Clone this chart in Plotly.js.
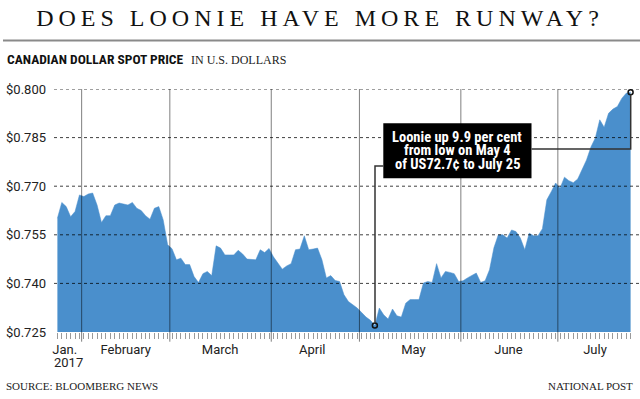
<!DOCTYPE html>
<html>
<head>
<meta charset="utf-8">
<script src="https://cdn.plot.ly/plotly-3.0.1.min.js"></script>
<style>
  html, body { margin: 0; padding: 0; background: #fff; }
  #chart { width: 640px; height: 399px; }
  .gtitle { letter-spacing: 5px; }
</style>
</head>
<body>
<div id="chart"></div>
<script>
// ---- data (Canadian dollar spot price in US$, weekdays Jan 24 - Jul 25, 2017) ----
var startDate = '2017-01-24';
var endDate = '2017-07-25';
var prices = [
  0.7601,0.7650,0.7637,0.7606,0.7622,0.7673,0.7668,0.7676,0.7679,0.7642,
  0.7588,0.7609,0.7609,0.7642,0.7648,0.7646,0.7642,0.7650,0.7632,0.7625,
  0.7609,0.7598,0.7632,0.7637,0.7596,0.7519,0.7507,0.7473,0.7478,0.7458,
  0.7458,0.7421,0.7403,0.7430,0.7437,0.7424,0.7516,0.7509,0.7488,0.7488,
  0.7488,0.7502,0.7491,0.7475,0.7475,0.7473,0.7504,0.7495,0.7508,0.7482,
  0.7463,0.7444,0.7454,0.7461,0.7504,0.7506,0.7547,0.7504,0.7506,0.7509,
  0.7473,0.7417,0.7424,0.7409,0.7406,0.7365,0.7344,0.7334,0.7324,0.7310,
  0.7296,0.7286,0.7270,0.7324,0.7303,0.7290,0.7321,0.7300,0.7296,0.7339,
  0.7350,0.7350,0.7350,0.7401,0.7406,0.7403,0.7461,0.7417,0.7437,0.7434,
  0.7430,0.7406,0.7408,0.7417,0.7424,0.7432,0.7403,0.7408,0.7442,0.7510,
  0.7550,0.7550,0.7540,0.7565,0.7560,0.7540,0.7504,0.7555,0.7547,0.7547,
  0.7569,0.7658,0.7683,0.7710,0.7694,0.7728,0.7717,0.7711,0.7722,0.7750,
  0.7781,0.7821,0.7849,0.7905,0.7882,0.7925,0.7938,0.7946,0.7971,0.7987,
  0.7990
];
var yTickVals = [0.725, 0.740, 0.755, 0.770, 0.785, 0.800];
var yTickText = ['$0.725', '$0.740', '$0.755', '$0.770', '$0.785', '$0.800'];
var monthLabelDates = ['2017-01-25 16:00', '2017-02-14 12:00', '2017-03-15 22:00', '2017-04-13 19:00',
                       '2017-05-16 18:00', '2017-06-15 07:00', '2017-07-12 22:00'];
var monthLabels = ['Jan.', 'February', 'March', 'April', 'May', 'June', 'July'];
var monthDividers = ['2017-01-31 12:00', '2017-02-28 12:00', '2017-03-31 12:00',
                     '2017-04-28 12:00', '2017-05-31 12:00', '2017-06-30 12:00'];
var calloutText = ['Loonie up 9.9 per cent', 'from low on May 4', 'of US72.7\u00a2 to July 25'];

// weekday dates
function pad(n) { return (n < 10 ? '0' : '') + n; }
var dates = [];
(function () {
  var d = new Date(startDate + 'T00:00:00Z'), e = new Date(endDate + 'T00:00:00Z');
  while (d <= e) {
    var w = d.getUTCDay();
    if (w !== 0 && w !== 6) dates.push(d.getUTCFullYear() + '-' + pad(d.getUTCMonth() + 1) + '-' + pad(d.getUTCDate()));
    d.setUTCDate(d.getUTCDate() + 1);
  }
})();

// low and latest points
var lowIdx = 0;
prices.forEach(function (v, i) { if (v < prices[lowIdx]) lowIdx = i; });
var lastIdx = prices.length - 1;

// ---- layout helpers (pixel -> paper) ----
var W = 640, H = 399, L = 54, R = 634, T = 89, B = 332.3;
function px(x) { return (x - L) / (R - L); }
function py(y) { return (B - y) / (B - T); }

var serif = 'Liberation Serif, Times New Roman, serif';
var narrow = 'Liberation Sans Narrow, Arial Narrow, Roboto Condensed, Roboto, sans-serif';
var sans = 'Roboto, Lato, Arial, sans-serif';

var traces = [
  {
    type: 'scatter', mode: 'lines', x: dates, y: prices,
    fill: 'tozeroy', fillcolor: '#4a8fcc', line: { color: '#4a8fcc', width: 0.5 },
    hoverinfo: 'skip', showlegend: false
  },
  {
    type: 'scatter', mode: 'markers',
    x: [dates[lowIdx], dates[lastIdx]], y: [prices[lowIdx], prices[lastIdx]],
    marker: { symbol: 'circle-open', size: 5, color: '#111', line: { width: 1.5, color: '#111' } },
    hoverinfo: 'skip', showlegend: false, cliponaxis: false
  }
];

var shapes = [];
// horizontal dotted gridlines
yTickVals.forEach(function (v) {
  if (v === yTickVals[0]) return;
  shapes.push({ type: 'line', xref: 'paper', yref: 'y', x0: px(54), x1: px(640), y0: v, y1: v,
    line: { color: 'rgba(0,0,0,0.75)', width: 1, dash: 'dot' }, layer: 'above' });
});
// month dividers
monthDividers.forEach(function (d) {
  shapes.push({ type: 'line', xref: 'x', yref: 'paper', x0: d, x1: d, y0: py(342), y1: 1,
    line: { color: 'rgba(0,0,0,0.5)', width: 1 }, layer: 'above' });
});
// rule under title
shapes.push({ type: 'line', xref: 'paper', yref: 'paper', x0: px(3), x1: px(640), y0: py(40.5), y1: py(40.5),
  line: { color: '#8a8a8a', width: 2 }, layer: 'above' });
// callout box
shapes.push({ type: 'rect', xref: 'paper', yref: 'paper', x0: px(383.3), x1: px(531.5), y0: py(178.3), y1: py(123.3),
  fillcolor: '#000', line: { width: 0 }, layer: 'above' });
// callout connectors
shapes.push({ type: 'path', xref: 'paper', yref: 'paper',
  path: 'M ' + px(383.3) + ' ' + py(166) + ' L ' + px(375) + ' ' + py(166) + ' L ' + px(375) + ' ' + py(323),
  line: { color: '#333', width: 1.5 }, layer: 'above' });
shapes.push({ type: 'path', xref: 'paper', yref: 'paper',
  path: 'M ' + px(531.5) + ' ' + py(149) + ' L ' + px(630.7) + ' ' + py(149) + ' L ' + px(630.7) + ' ' + py(94.5),
  line: { color: '#333', width: 1.5 }, layer: 'above' });

var annotations = [
  { xref: 'paper', yref: 'paper', x: px(5), y: py(59), xanchor: 'left', yanchor: 'middle', showarrow: false,
    text: '<b>CANADIAN DOLLAR SPOT PRICE</b>', font: { family: narrow, size: 13.5, color: '#111' } },
  { xref: 'paper', yref: 'paper', x: px(189), y: py(60), xanchor: 'left', yanchor: 'middle', showarrow: false,
    text: 'IN U.S. DOLLARS', font: { family: serif, size: 12, color: '#222' } },
  { xref: 'paper', yref: 'paper', x: px(52), y: py(363), xanchor: 'left', yanchor: 'middle', showarrow: false,
    text: '2017', font: { family: sans, size: 13, color: '#222' } },
  { xref: 'paper', yref: 'paper', x: px(4), y: py(386), xanchor: 'left', yanchor: 'middle', showarrow: false,
    text: 'SOURCE: BLOOMBERG NEWS', font: { family: serif, size: 11, color: '#222' } },
  { xref: 'paper', yref: 'paper', x: px(635), y: py(386), xanchor: 'right', yanchor: 'middle', showarrow: false,
    text: 'NATIONAL POST', font: { family: serif, size: 11, color: '#222' } }
];
var lineYs = [137.3, 151, 164.3];
calloutText.forEach(function (t, i) {
  annotations.push({ xref: 'paper', yref: 'paper', x: px(457.4), y: py(lineYs[i]), xanchor: 'center', yanchor: 'middle',
    showarrow: false, text: '<b>' + t + '</b>', font: { family: narrow, size: 14.5, color: '#fff' } });
});

var layout = {
  width: W, height: H,
  margin: { l: L, r: W - R, t: T, b: H - B, pad: 0 },
  paper_bgcolor: '#fff', plot_bgcolor: '#fff',
  showlegend: false,
  title: { text: 'DOES LOONIE HAVE MORE RUNWAY?', font: { family: serif, size: 24, color: '#111' },
    x: 0.5, xref: 'container', xanchor: 'center', y: 1 - 18 / H, yref: 'container', yanchor: 'middle' },
  xaxis: {
    type: 'date',
    range: ['2017-01-23 05:30', '2017-07-25 18:30'],
    rangebreaks: [{ bounds: ['sat', 'mon'] }],
    tickvals: monthLabelDates, ticktext: monthLabels,
    ticks: '', showgrid: false, zeroline: false, showline: false,
    tickfont: { family: sans, size: 13, color: '#222' },
    ticklabelstandoff: 8,
    minor: { ticks: 'outside', ticklen: 6, tickwidth: 1, tickcolor: '#9a9a9a', dtick: 86400000, tick0: '2017-01-24', showgrid: false },
    fixedrange: true
  },
  yaxis: {
    range: [0.725, 0.800],
    tickvals: yTickVals, ticktext: yTickText,
    ticks: '', showgrid: false, zeroline: false, showline: false,
    tickfont: { family: sans, size: 13, color: '#222' },
    ticklabelstandoff: 7,
    fixedrange: true
  },
  shapes: shapes,
  annotations: annotations
};

Plotly.newPlot('chart', traces, layout, { displayModeBar: false, staticPlot: true });
</script>
</body>
</html>
